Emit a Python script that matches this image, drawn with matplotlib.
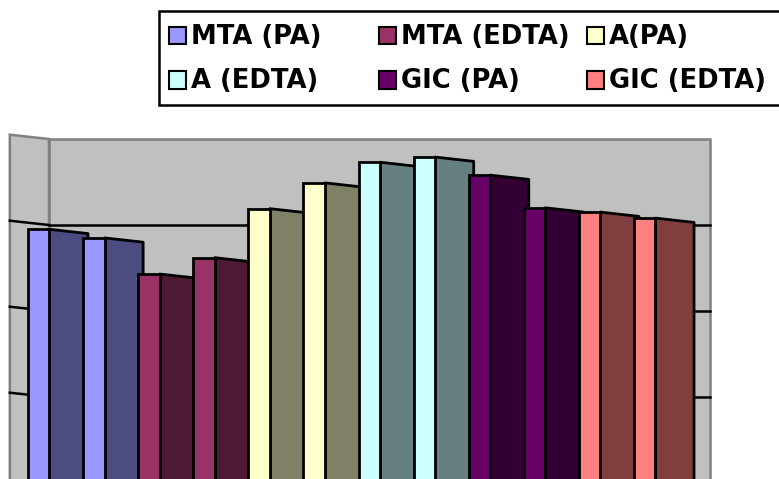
import numpy as np
import matplotlib.pyplot as plt
from matplotlib.patches import Polygon, Rectangle

# Series names (legend order, row by row) and bar values, two bars per series
series = ['MTA (PA)', 'MTA (EDTA)', 'A(PA)', 'A (EDTA)', 'GIC (PA)', 'GIC (EDTA)']
values = [
    [2.95, 2.85],   # MTA (PA)
    [2.43, 2.62],   # MTA (EDTA)
    [3.19, 3.49],   # A(PA)
    [3.73, 3.79],   # A (EDTA)
    [3.58, 3.20],   # GIC (PA)
    [3.15, 3.08],   # GIC (EDTA)
]
front_colors = ['#9999FF', '#993366', '#FFFFCC', '#CCFFFF', '#660066', '#FF8080']
side_colors = ['#4C4C80', '#4D1A33', '#808066', '#668080', '#330033', '#804040']
grid_ticks = [1, 2, 3]
grid_max = 4

W, H = 779, 479
fig = plt.figure(figsize=(W / 100, H / 100), dpi=100, facecolor='white')
ax = fig.add_axes([0, 0, 1, 1])
ax.axis('off')

# one x unit per bar, one y unit per gridline step
px_per_bar = 55.09
px_per_unit = 86.0
x0_px, base_px = 28, 483
ax.set_xlim(-x0_px / px_per_bar, (W - x0_px) / px_per_bar)
ax.set_ylim((base_px - H) / px_per_unit, base_px / px_per_unit)

wall_gray = '#C0C0C0'
edge_gray = '#808080'
back_x0, back_x1 = 0.38, 12.38
side_x = -0.33          # front edge of the side wall
rise = 0.05             # perspective lift of the side wall front edge

# back wall
ax.add_patch(Rectangle((back_x0, -1), back_x1 - back_x0, grid_max + 1,
                       facecolor=wall_gray, edgecolor=edge_gray, lw=1.8, zorder=1))
# side wall
ax.add_patch(Polygon([(side_x, -1), (side_x, grid_max + rise), (back_x0, grid_max), (back_x0, -1)],
                     closed=True, facecolor=wall_gray, edgecolor=edge_gray, lw=1.8, zorder=1))

# gridlines on both walls
for g in grid_ticks:
    ax.plot([back_x0, back_x1], [g, g], color='black', lw=1.8, zorder=2)
    ax.plot([side_x, back_x0], [g + rise, g], color='black', lw=1.8, zorder=2)

# 3-D looking columns: light front face + darker receding side face
front_w = 0.39
side_w = 0.70
drop = 0.05
lw_bar = 2.0
z = 3
i = 0
for s in range(len(series)):
    for v in values[s]:
        xl = i
        xr = i + front_w
        side = Polygon([(xr, -1), (xr, v), (xr + side_w, v - drop), (xr + side_w, -1)],
                       closed=True, facecolor=side_colors[s], edgecolor='black',
                       lw=lw_bar, joinstyle='round', zorder=z)
        ax.add_patch(side)
        ax.bar(xl, v + 1, bottom=-1, width=front_w, align='edge', color=front_colors[s],
               edgecolor='black', lw=lw_bar, zorder=z + 1)
        z += 2
        i += 1

# legend box
def fx(px):
    return px / W

def fy(py):
    return 1 - py / H

fig.patches.append(Rectangle((fx(159), fy(105)), fx(640), (105 - 11) / H,
                             transform=fig.transFigure, facecolor='white',
                             edgecolor='black', lw=1.8, zorder=10))

col_x = [169, 379, 587]
row_y = [35.5, 80]
for k, name in enumerate(series):
    r, c = divmod(k, 3)
    sq = 17
    fig.patches.append(Rectangle((fx(col_x[c]), fy(row_y[r] + sq / 2)), sq / W, sq / H,
                                 transform=fig.transFigure, facecolor=front_colors[k],
                                 edgecolor='black', lw=1.5, zorder=11))
    fig.text(fx(col_x[c] + 22), fy(row_y[r] + 1), name, fontsize=18.6, fontweight='bold',
             family='DejaVu Sans', ha='left', va='center', zorder=12)

fig.savefig('out.png', dpi=100, facecolor='white')
